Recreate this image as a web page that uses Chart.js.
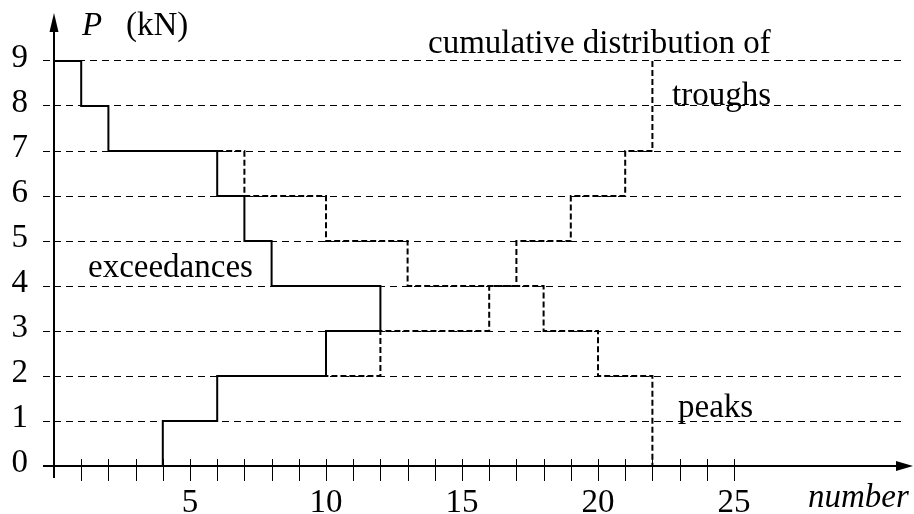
<!DOCTYPE html>
<html lang="en">
<head>
<meta charset="UTF-8" />
<title>Exceedances and cumulative distribution</title>
<script src="https://cdn.jsdelivr.net/npm/chart.js"></script>
<style>
  html, body { margin: 0; padding: 0; background: #fff; }
</style>
</head>
<body>
<canvas id="loadChart" width="914" height="514"></canvas>
<script>
  // exceedance curve: peaks climbing from 0, troughs coming down from 9 (step corners)
  const exceedN = [0, 4, 6, 10, 12, 8, 7, 6, 2, 1, 0];
  const exceedP = [0, 1, 2, 3, 4, 5, 6, 7, 8, 9, 9];

  // cumulative distribution of troughs (vertical step first)
  const troughN = [22, 21, 19, 17, 16, 12, 10];
  const troughP = [9, 7, 6, 5, 4, 3, 2];

  // cumulative distribution of peaks (horizontal step first)
  const peakN = [6, 7, 10, 13, 18, 20, 22];
  const peakP = [7, 6, 5, 4, 3, 2, 0];

  const xLabels = [5, 10, 15, 20, 25];
  const yLabels = [0, 1, 2, 3, 4, 5, 6, 7, 8, 9];
  const lastTick = 25;

  const SERIF = '"Liberation Serif", "DejaVu Serif", serif';
  const tickFont = { family: SERIF, size: 33 };

  const toPoints = (xs, ys) => xs.map((x, i) => ({ x: x, y: ys[i] }));

  // axes with arrows, small ticks along the number axis
  const axesPlugin = {
    id: 'axes',
    afterDraw(chart) {
      const { ctx } = chart;
      const x = chart.scales.x, y = chart.scales.y;
      const x0 = Math.round(x.getPixelForValue(0));
      const y0 = Math.round(y.getPixelForValue(0));
      const xEnd = chart.width - 1;
      const yTop = 13;

      ctx.save();
      ctx.strokeStyle = '#000';
      ctx.fillStyle = '#000';

      ctx.lineWidth = 1;
      ctx.beginPath();
      for (let n = 1; n <= lastTick; n++) {
        const px = Math.round(x.getPixelForValue(n)) + 0.5;
        ctx.moveTo(px, y0 - 7);
        ctx.lineTo(px, y0 + 15);
      }
      ctx.stroke();

      ctx.lineWidth = 2;
      ctx.beginPath();
      ctx.moveTo(x0 - 11, y0);
      ctx.lineTo(xEnd - 10, y0);
      ctx.moveTo(x0, y0 + 12);
      ctx.lineTo(x0, yTop + 10);
      ctx.stroke();

      ctx.beginPath();
      ctx.moveTo(xEnd, y0);
      ctx.lineTo(xEnd - 17, y0 - 5);
      ctx.lineTo(xEnd - 17, y0 + 5);
      ctx.closePath();
      ctx.fill();

      ctx.beginPath();
      ctx.moveTo(x0, yTop);
      ctx.lineTo(x0 - 4.5, yTop + 19);
      ctx.lineTo(x0 + 4.5, yTop + 19);
      ctx.closePath();
      ctx.fill();
      ctx.restore();
    }
  };

  // axis names and curve captions
  const textPlugin = {
    id: 'captions',
    afterDraw(chart) {
      const { ctx } = chart;
      ctx.save();
      ctx.fillStyle = '#000';
      ctx.textAlign = 'left';
      ctx.textBaseline = 'alphabetic';
      ctx.font = 'italic 33px ' + SERIF;
      ctx.fillText('P', 82, 35);
      ctx.fillText('number', 808, 507);
      ctx.font = '33px ' + SERIF;
      ctx.fillText('(kN)', 126, 35);
      ctx.fillText('cumulative distribution of', 428, 53);
      ctx.fillText('troughs', 672, 105);
      ctx.fillText('exceedances', 88, 277);
      ctx.fillText('peaks', 678, 417);
      ctx.restore();
    }
  };

  const ctx = document.getElementById('loadChart').getContext('2d');
  new Chart(ctx, {
    type: 'scatter',
    data: {
      datasets: [
        {
          label: 'exceedances',
          data: toPoints(exceedN, exceedP),
          showLine: true,
          stepped: 'before',
          borderColor: '#000',
          borderWidth: 2,
          pointRadius: 0,
          fill: false
        },
        {
          label: 'troughs',
          data: toPoints(troughN, troughP),
          showLine: true,
          stepped: 'after',
          borderColor: '#000',
          borderWidth: 2,
          borderDash: [6, 3],
          pointRadius: 0,
          fill: false
        },
        {
          label: 'peaks',
          data: toPoints(peakN, peakP),
          showLine: true,
          stepped: 'before',
          borderColor: '#000',
          borderWidth: 2,
          borderDash: [6, 3],
          pointRadius: 0,
          fill: false
        }
      ]
    },
    options: {
      responsive: false,
      animation: false,
      layout: { padding: { top: 16, right: 10, left: 0, bottom: 0 } },
      plugins: {
        legend: { display: false },
        tooltip: { enabled: false }
      },
      scales: {
        x: {
          type: 'linear',
          min: 0,
          max: 31.25,
          afterBuildTicks: (s) => { s.ticks = xLabels.map((v) => ({ value: v })); },
          afterFit: (s) => { s.height = 48; s.paddingLeft = 0; s.paddingRight = 0; },
          ticks: { font: tickFont, color: '#000', padding: 10, maxRotation: 0, autoSkip: false },
          grid: { display: false },
          border: { display: false }
        },
        y: {
          type: 'linear',
          min: 0,
          max: 10,
          afterBuildTicks: (s) => { s.ticks = yLabels.map((v) => ({ value: v })); },
          afterFit: (s) => { s.width = 54; s.paddingTop = 0; s.paddingBottom = 0; },
          ticks: { font: tickFont, color: '#000', padding: 15, labelOffset: -3 },
          grid: {
            color: (c) => (c.tick && c.tick.value > 0 ? '#000' : 'rgba(0,0,0,0)'),
            lineWidth: 1,
            drawTicks: true,
            tickLength: 11,
            tickBorderDash: [7, 5]
          },
          border: { display: false, dash: [7, 5] }
        }
      }
    },
    plugins: [axesPlugin, textPlugin]
  });
</script>
</body>
</html>
